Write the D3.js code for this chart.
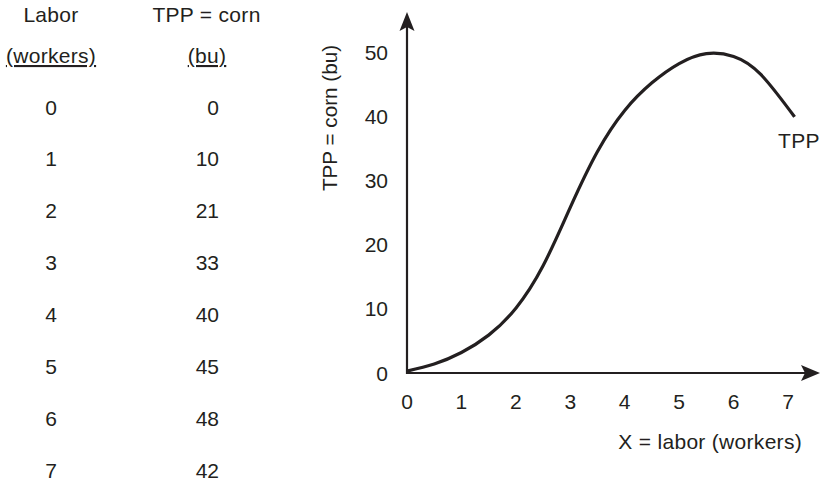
<!DOCTYPE html>
<html>
<head>
<meta charset="utf-8">
<script src="https://cdn.jsdelivr.net/npm/d3@7"></script>
<style>
  html, body { margin: 0; padding: 0; background: #fff; }
  svg { display: block; }
  text { font-family: "Liberation Sans", Arial, Helvetica, sans-serif; fill: #231f20; }
</style>
</head>
<body>
<svg id="chart" width="820" height="485"></svg>
<script>
// ---- data ----
const laborWorkers = [0, 1, 2, 3, 4, 5, 6, 7];
const tppCorn = [0, 10, 21, 33, 40, 45, 48, 42];
const tableHeaders = ["Labor", "TPP = corn"];
const tableUnits = ["(workers)", "(bu)"];

const xTicks = [0, 1, 2, 3, 4, 5, 6, 7];
const yTicks = [0, 10, 20, 30, 40, 50];

// smooth TPP curve as drawn in the graph
const curveLabor = [0, 0.5, 1.0, 1.5, 2.0, 2.5, 3.0, 3.5, 4.0, 4.5, 5.0, 5.5, 6.0, 6.5, 7.12];
const curveTPP   = [0.3, 1.4, 3.2, 5.9, 10.1, 16.7, 25.8, 34.5, 40.9, 45.2, 48.2, 49.75, 49.3, 46.5, 39.9];

const xTitle = "X = labor (workers)";
const yTitle = "TPP = corn (bu)";
const curveLabel = "TPP";

// ---- drawing ----
const ink = "#231f20";
const fs = 21;
const ls = "0.3px";
const svg = d3.select("#chart");

// table
const colX = [51, 219];
const rowY = d3.scalePoint().domain(laborWorkers).range([107, 470]);

svg.append("g").selectAll("text").data(tableHeaders).join("text")
  .attr("x", (d, i) => i === 0 ? colX[0] : 206.5)
  .attr("y", 22)
  .attr("text-anchor", "middle")
  .attr("font-size", fs).style("letter-spacing", ls)
  .text(d => d);

svg.append("g").selectAll("text").data(tableUnits).join("text")
  .attr("x", (d, i) => i === 0 ? colX[0] : 207)
  .attr("y", 63)
  .attr("text-anchor", "middle")
  .attr("font-size", fs).style("letter-spacing", ls)
  .style("text-decoration", "underline")
  .text(d => d);

const rows = svg.append("g").selectAll("g").data(laborWorkers.map((l, i) => ({ l, t: tppCorn[i] }))).join("g");
rows.append("text")
  .attr("x", colX[0]).attr("y", d => rowY(d.l) + 7.5)
  .attr("text-anchor", "middle").attr("font-size", fs)
  .text(d => d.l);
rows.append("text")
  .attr("x", colX[1]).attr("y", d => rowY(d.l) + 7.5)
  .attr("text-anchor", "end").attr("font-size", fs)
  .text(d => d.t);

// graph
const x = d3.scaleLinear().domain([0, 7]).range([407, 788]);
const y = d3.scaleLinear().domain([0, 50]).range([373, 52]);

const axisTop = 12, axisRight = 820;

// y axis line + arrow
svg.append("line")
  .attr("x1", x(0)).attr("x2", x(0))
  .attr("y1", y(0) + 1).attr("y2", axisTop + 10)
  .attr("stroke", ink).attr("stroke-width", 2.2);
svg.append("path")
  .attr("d", `M${x(0)},${axisTop} L${x(0) + 7.5},${axisTop + 19} L${x(0)},${axisTop + 15} L${x(0) - 7.5},${axisTop + 19} Z`)
  .attr("fill", ink);

// x axis line + arrow
svg.append("line")
  .attr("x1", x(0) - 1).attr("x2", axisRight - 10)
  .attr("y1", y(0)).attr("y2", y(0))
  .attr("stroke", ink).attr("stroke-width", 2.2);
svg.append("path")
  .attr("d", `M${axisRight},${y(0)} L${axisRight - 19},${y(0) + 8} L${axisRight - 15},${y(0)} L${axisRight - 19},${y(0) - 8} Z`)
  .attr("fill", ink);

// tick labels
svg.append("g").selectAll("text").data(xTicks).join("text")
  .attr("x", d => x(d)).attr("y", 409)
  .attr("text-anchor", "middle").attr("font-size", fs)
  .text(d => d);

svg.append("g").selectAll("text").data(yTicks).join("text")
  .attr("x", 388).attr("y", d => y(d) + 7.5)
  .attr("text-anchor", "end").attr("font-size", fs)
  .text(d => d);

// axis titles
svg.append("text")
  .attr("transform", "translate(337,118) rotate(-90)")
  .attr("text-anchor", "middle").attr("font-size", 20.7)
  .text(yTitle);

svg.append("text")
  .attr("x", 802).attr("y", 449)
  .attr("text-anchor", "end").attr("font-size", fs).style("letter-spacing", ls)
  .text(xTitle);

// curve
const pts = curveLabor.map((l, i) => [l, curveTPP[i]]);
const line = d3.line().x(d => x(d[0])).y(d => y(d[1])).curve(d3.curveNatural);
svg.append("path")
  .attr("d", line(pts))
  .attr("fill", "none").attr("stroke", ink)
  .attr("stroke-width", 3.2).attr("stroke-linecap", "butt");

svg.append("text")
  .attr("x", 778).attr("y", 148)
  .attr("font-size", fs).style("letter-spacing", ls)
  .text(curveLabel);
</script>
</body>
</html>
